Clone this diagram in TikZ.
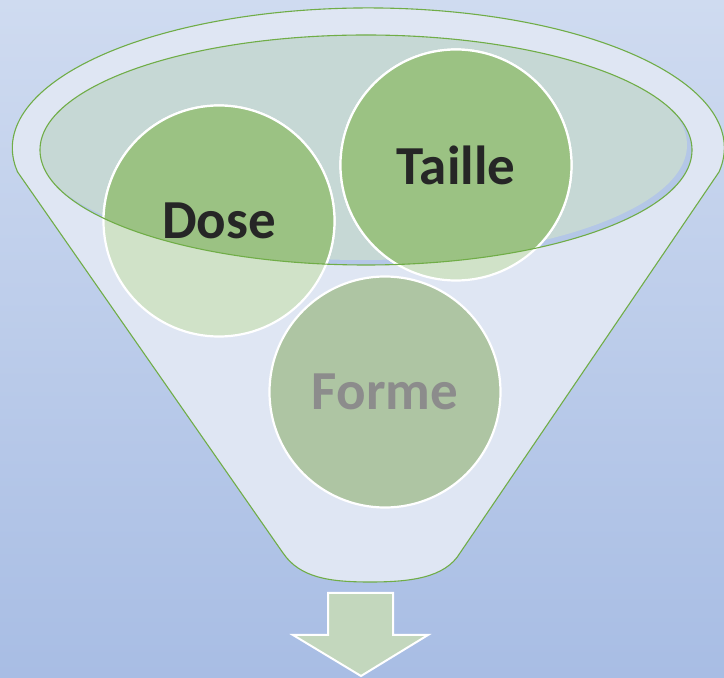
\documentclass[tikz,border=0pt]{standalone}
\usepackage{fontspec}
\setmainfont{Carlito}
\definecolor{bgtop}{RGB}{207,219,240}
\definecolor{bgbot}{RGB}{168,189,228}
\definecolor{funnelfill}{RGB}{223,230,243}
\definecolor{edgegreen}{RGB}{112,173,71}
\definecolor{bowlfill}{RGB}{198,216,213}
\definecolor{bowlshade}{RGB}{180,199,231}
\definecolor{ballpale}{RGB}{208,226,200}
\definecolor{balldark}{RGB}{155,194,131}
\definecolor{ballmid}{RGB}{174,197,163}
\definecolor{arrowfill}{RGB}{195,215,189}
\definecolor{textdark}{RGB}{38,38,38}
\definecolor{textgrey}{RGB}{140,140,140}
\tikzset{
  ball/.style={circle, minimum size=231pt, inner sep=0pt, draw=white, line width=2.2pt},
  balltext/.style={font=\fontsize{55}{60}\selectfont\bfseries, inner sep=0pt},
  rim/.style={draw=edgegreen, line width=1.1pt},
}
\begin{document}
\begin{tikzpicture}[x=1pt,y=1pt]
  % sizes of the bowl
  \def\bx{366}   % centre x
  \def\by{528}   % centre y
  \def\brx{326}  % x radius
  \def\bry{115}  % y radius

  % background
  \shade[top color=bgtop, bottom color=bgbot] (0,0) rectangle (724,678);
  \useasboundingbox (0,0) rectangle (724,678);

  % funnel body
  \filldraw[rim, fill=funnelfill] (17.6,506) -- (283,125)
    .. controls (300,100) and (330,96) .. (370,96)
    .. controls (410,96) and (445,100) .. (460,125)
    -- (719,506) arc[start angle=-9.9, end angle=189.9, x radius=356pt, y radius=140pt] -- cycle;

  % bowl with its shadow
  \fill[bowlshade] (\bx,\by) ellipse[x radius=\brx pt, y radius=\bry pt];
  \begin{scope}
    \clip (\bx,\by) ellipse[x radius=\brx pt, y radius=\bry pt];
    \fill[bowlfill] (\bx-5,\by+5) ellipse[x radius=\brx pt, y radius=\bry pt];
  \end{scope}

  % balls
  \node[ball, fill=ballpale] (dose) at (219,457) {};
  \node[ball, fill=ballpale] (taille) at (456,513) {};
  \node[ball, fill=ballmid] (forme) at (385,286) {};
  \begin{scope}
    \clip (\bx,\by) ellipse[x radius=\brx pt, y radius=\bry pt];
    \filldraw[balldark, draw=white, line width=2.2pt] (dose.center) circle[radius=115.5pt];
    \filldraw[balldark, draw=white, line width=2.2pt] (taille.center) circle[radius=115.5pt];
  \end{scope}
  \draw[rim] (\bx,\by) ellipse[x radius=\brx pt, y radius=\bry pt];

  % labels
  \node[balltext, text=textdark] at (dose) {Dose};
  \node[balltext, text=textdark] at (taille) {Taille};
  \node[balltext, text=textgrey] at (forme) {Forme};

  % arrow out of the funnel
  \filldraw[fill=arrowfill, draw=white, line width=2pt, line join=miter]
    (328,85) -- (393,85) -- (393,43) -- (428,43) -- (361,2) -- (293,43) -- (328,43) -- cycle;
\end{tikzpicture}
\end{document}
